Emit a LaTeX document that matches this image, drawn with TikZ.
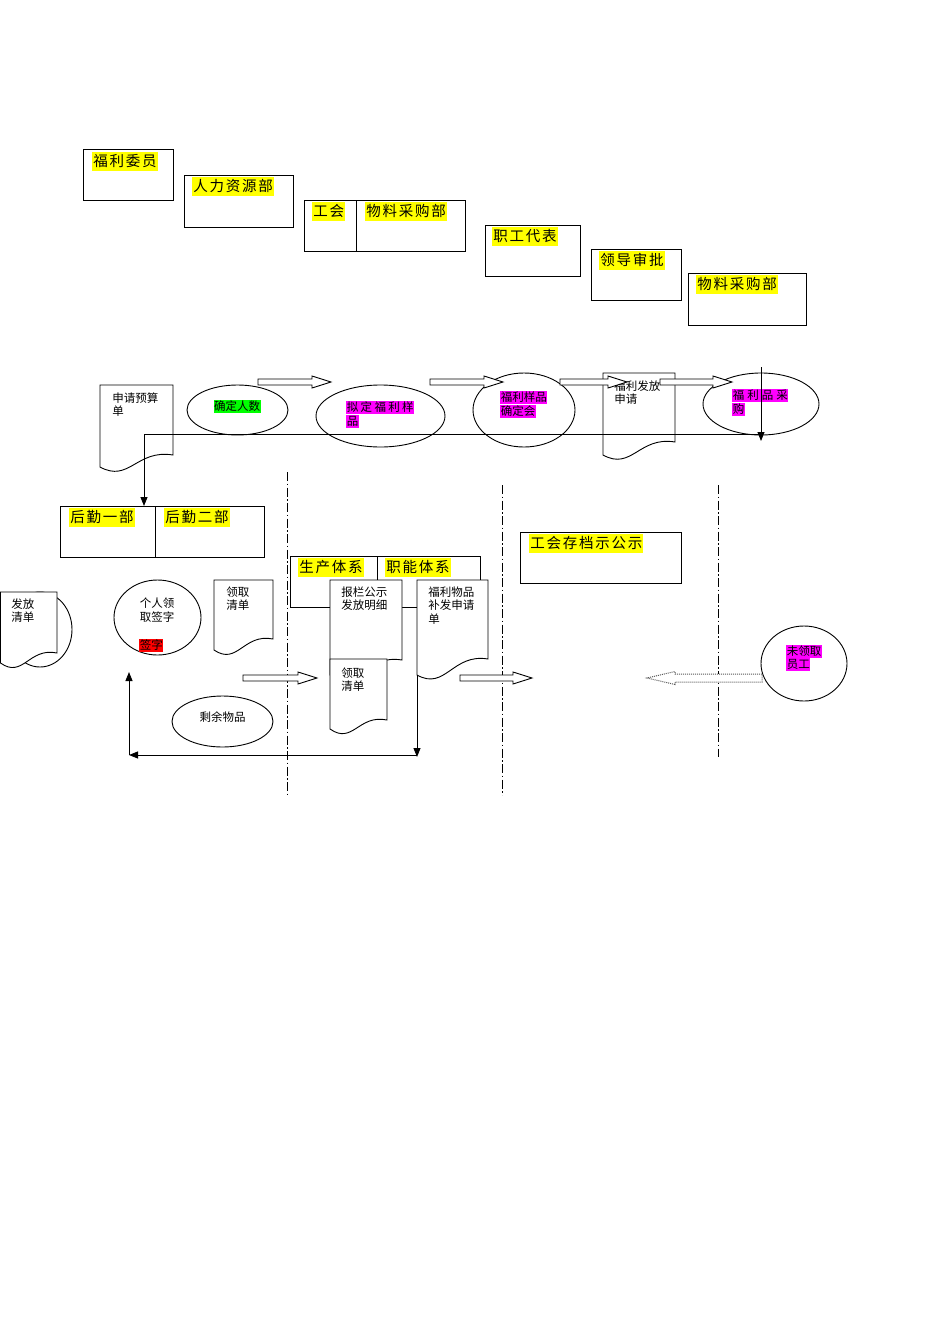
\documentclass[tikz,border=0pt]{standalone}
\usepackage{fontspec}
\newfontfamily\cjk{Noto Sans CJK SC}
\newfontfamily\cjkw[LetterSpace=12]{Noto Sans CJK SC}
\newfontfamily\cjks[LetterSpace=20]{Noto Sans CJK SC}
\newfontfamily\cjkss[LetterSpace=26]{Noto Sans CJK SC}
\usetikzlibrary{arrows.meta,shapes.geometric}
\definecolor{hlY}{HTML}{FFFF00}
\definecolor{hlM}{HTML}{FF00FF}
\definecolor{hlG}{HTML}{00FF00}
\definecolor{hlR}{HTML}{FF0000}
\newcommand\docshp[6]{%
  \draw[fill=white] (#2,#3) -- (#4,#3) -- (#4,#6)
    .. controls ({#2+0.5*(#4-#2)},{#6-6}) and ({#2+0.4*(#4-#2)},{#5+16}) .. (#2,#5) -- cycle;
  \coordinate (#1) at (#2,#3);}
\newcommand\barrow[3]{%
  \draw[fill=white] (#1,#2) ++(0,-3) -- ++({#3-19},0) -- ++(0,-3) -- ++(19,6) -- ++(-19,6) -- ++(0,-3) -- ++({19-#3},0) -- cycle;}
\begin{document}
\begin{tikzpicture}[x=1pt,y=-1pt,line width=0.9pt,
  box/.style={draw, anchor=north west, inner sep=0pt},
  ell/.style={draw, ellipse, inner sep=0pt, fill=white},
  hdr/.style={anchor=north west, fill=hlY, inner sep=1pt, font=\cjkw\fontsize{14.5}{16}\selectfont, text height=14pt, text depth=3.5pt},
  small/.style={anchor=north west, inner sep=0pt, align=left, font=\cjk\fontsize{11.5}{13.5}\selectfont},
  hl/.style={anchor=north west, inner sep=0.5pt, font=\cjk\fontsize{11.5}{13.5}\selectfont, text height=10pt, text depth=2pt},
  tip/.style={-{Triangle[width=7pt,length=9pt]}},
  dashdot/.style={line width=0.9pt, dash pattern=on 9pt off 2.5pt on 1.5pt off 2.5pt}
]
\useasboundingbox (0,0) rectangle (950,1344);

% ---- top header boxes ----
\node[box, minimum width=90, minimum height=51] (b1) at (83,149) {};
\node[hdr] (t1) at (92,151.5) {福利委员};
\node[box, minimum width=109, minimum height=52] (b2) at (184,175) {};
\node[hdr] (t2) at (192,176.5) {人力资源部};
\node[box, minimum width=161, minimum height=51] (b3) at (304,200) {};
\draw (356,200) -- (356,251);
\node[hdr] (t3a) at (312,201.5) {工会};
\node[hdr] (t3b) at (365,201.5) {物料采购部};
\node[box, minimum width=95, minimum height=51] (b4) at (485,225) {};
\node[hdr] (t4) at (492,226.5) {职工代表};
\node[box, minimum width=90, minimum height=51] (b5) at (591,249) {};
\node[hdr] (t5) at (599,250.5) {领导审批};
\node[box, minimum width=118, minimum height=52] (b6) at (688,273) {};
\node[hdr] (t6) at (696,274.5) {物料采购部};

% ---- flow row ----
\docshp{d1}{100}{385}{173}{467}{455}
\node[small] (d1t) at (112,392) {申请预算\\单};
\node[ell, minimum width=101, minimum height=50] (e1) at (237.5,410) {};
\node[hl, fill=hlG, anchor=center] (e1t) at (237,406) {确定人数};
\node[ell, minimum width=129, minimum height=62] (e2) at (380.5,416) {};
\node[hl, fill=hlM, font=\cjks\fontsize{11.5}{13.5}\selectfont] (e2t) at (346,401) {拟定福利样};
\node[hl, fill=hlM] (e2u) at (346,414.5) {品};
\node[ell, minimum width=102, minimum height=74] (e3) at (524,410) {};
\node[hl, fill=hlM] (e3t) at (500,391) {福利样品};
\node[hl, fill=hlM] (e3u) at (500,404.5) {确定会};
\docshp{d2}{603}{373}{675}{455}{442}
\node[small] (d2t) at (614,380) {福利发放\\申请};
\node[ell, minimum width=116, minimum height=62] (e4) at (761,404) {};
\node[hl, fill=hlM, font=\cjkss\fontsize{11.5}{13.5}\selectfont] (e4t) at (732,389) {福利品采};
\node[hl, fill=hlM] (e4u) at (732,402.5) {购};

\barrow{258}{382}{73}
\barrow{430}{382}{73}
\barrow{560}{382}{67}
\barrow{660}{382}{72}

\coordinate (vtop) at (761,367);
\coordinate (vbot) at (761,441);
\draw[tip] (vtop) -- (vbot);
\coordinate (hr) at (761,434);
\coordinate (hl) at (144,434);

% ---- lower part ----
\node[box, minimum width=204, minimum height=51] (hq) at (60,506) {};
\draw (155,506) -- (155,557);
\node[hdr] (hq1) at (69,507.5) {后勤一部};
\node[hdr] (hq2) at (164,507.5) {后勤二部};
\draw (hr) -- (hl);
\draw[tip] (hl) -- (hl |- hq.north);

\draw[dashdot] (287,472) -- (287,795);
\draw[dashdot] (502,485) -- (502,795);
\draw[dashdot] (718,485) -- (718,757);

\node[ell, minimum width=64, minimum height=75] (e5) at (40,629.5) {};
\docshp{d3}{0.5}{592}{57}{663}{653}
\node[small] (d3t) at (11,598) {发放\\清单};

\node[ell, minimum width=87, minimum height=75] (e6) at (157.5,617.5) {};
\node[small, anchor=north, align=center] (e6t) at (157,597.5) {个人领\\取签字};
\node[hl, fill=hlR] (e6u) at (139,638.5) {签字};

\docshp{d4}{214}{580}{273}{650}{639}
\node[small] (d4t) at (226,586) {领取\\清单};

\node[box, minimum width=190, minimum height=51] (sc) at (290,556) {};
\draw (377,556) -- (377,607);
\node[hdr] (sc1) at (298,557.5) {生产体系};
\node[hdr] (sc2) at (385,557.5) {职能体系};

\docshp{d5}{330}{580}{402}{675}{660}
\node[small] (d5t) at (341,586) {报栏公示\\发放明细};
\docshp{d6}{330}{659}{387}{729}{720}
\node[small] (d6t) at (341,667) {领取\\清单};
\docshp{d7}{417}{580}{488}{675}{659}
\node[small] (d7t) at (428,586) {福利物品\\补发申请\\单};

\node[box, minimum width=161, minimum height=51] (gh) at (520,532) {};
\node[hdr] (ght) at (529,533.5) {工会存档示公示};

\node[ell, minimum width=101, minimum height=51] (e7) at (222.5,721.5) {};
\node[small, anchor=center] (e7t) at (222.5,717.5) {剩余物品};

\node[ell, minimum width=86, minimum height=75] (e8) at (804,663.5) {};
\node[hl, fill=hlM] (e8t) at (786,644.5) {未领取};
\node[hl, fill=hlM] (e8u) at (786,658) {员工};

\barrow{243}{678}{74}
\barrow{460}{678}{72}
\draw[black!65, line width=1pt, dash pattern=on 1pt off 1pt, fill=white] (762,674) -- (675,674) -- (675,671.5) -- (647,678) -- (675,684.5) -- (675,682) -- (762,682) -- cycle;

\coordinate (ra) at (417,675);
\coordinate (rb) at (417,757);
\coordinate (lb) at (129,755);
\coordinate (lt) at (129,672);
\draw[tip] (ra) -- (rb);
\draw[tip] (417,755) -- (lb);
\draw[tip] (lb) -- (lt);
\end{tikzpicture}
\end{document}
